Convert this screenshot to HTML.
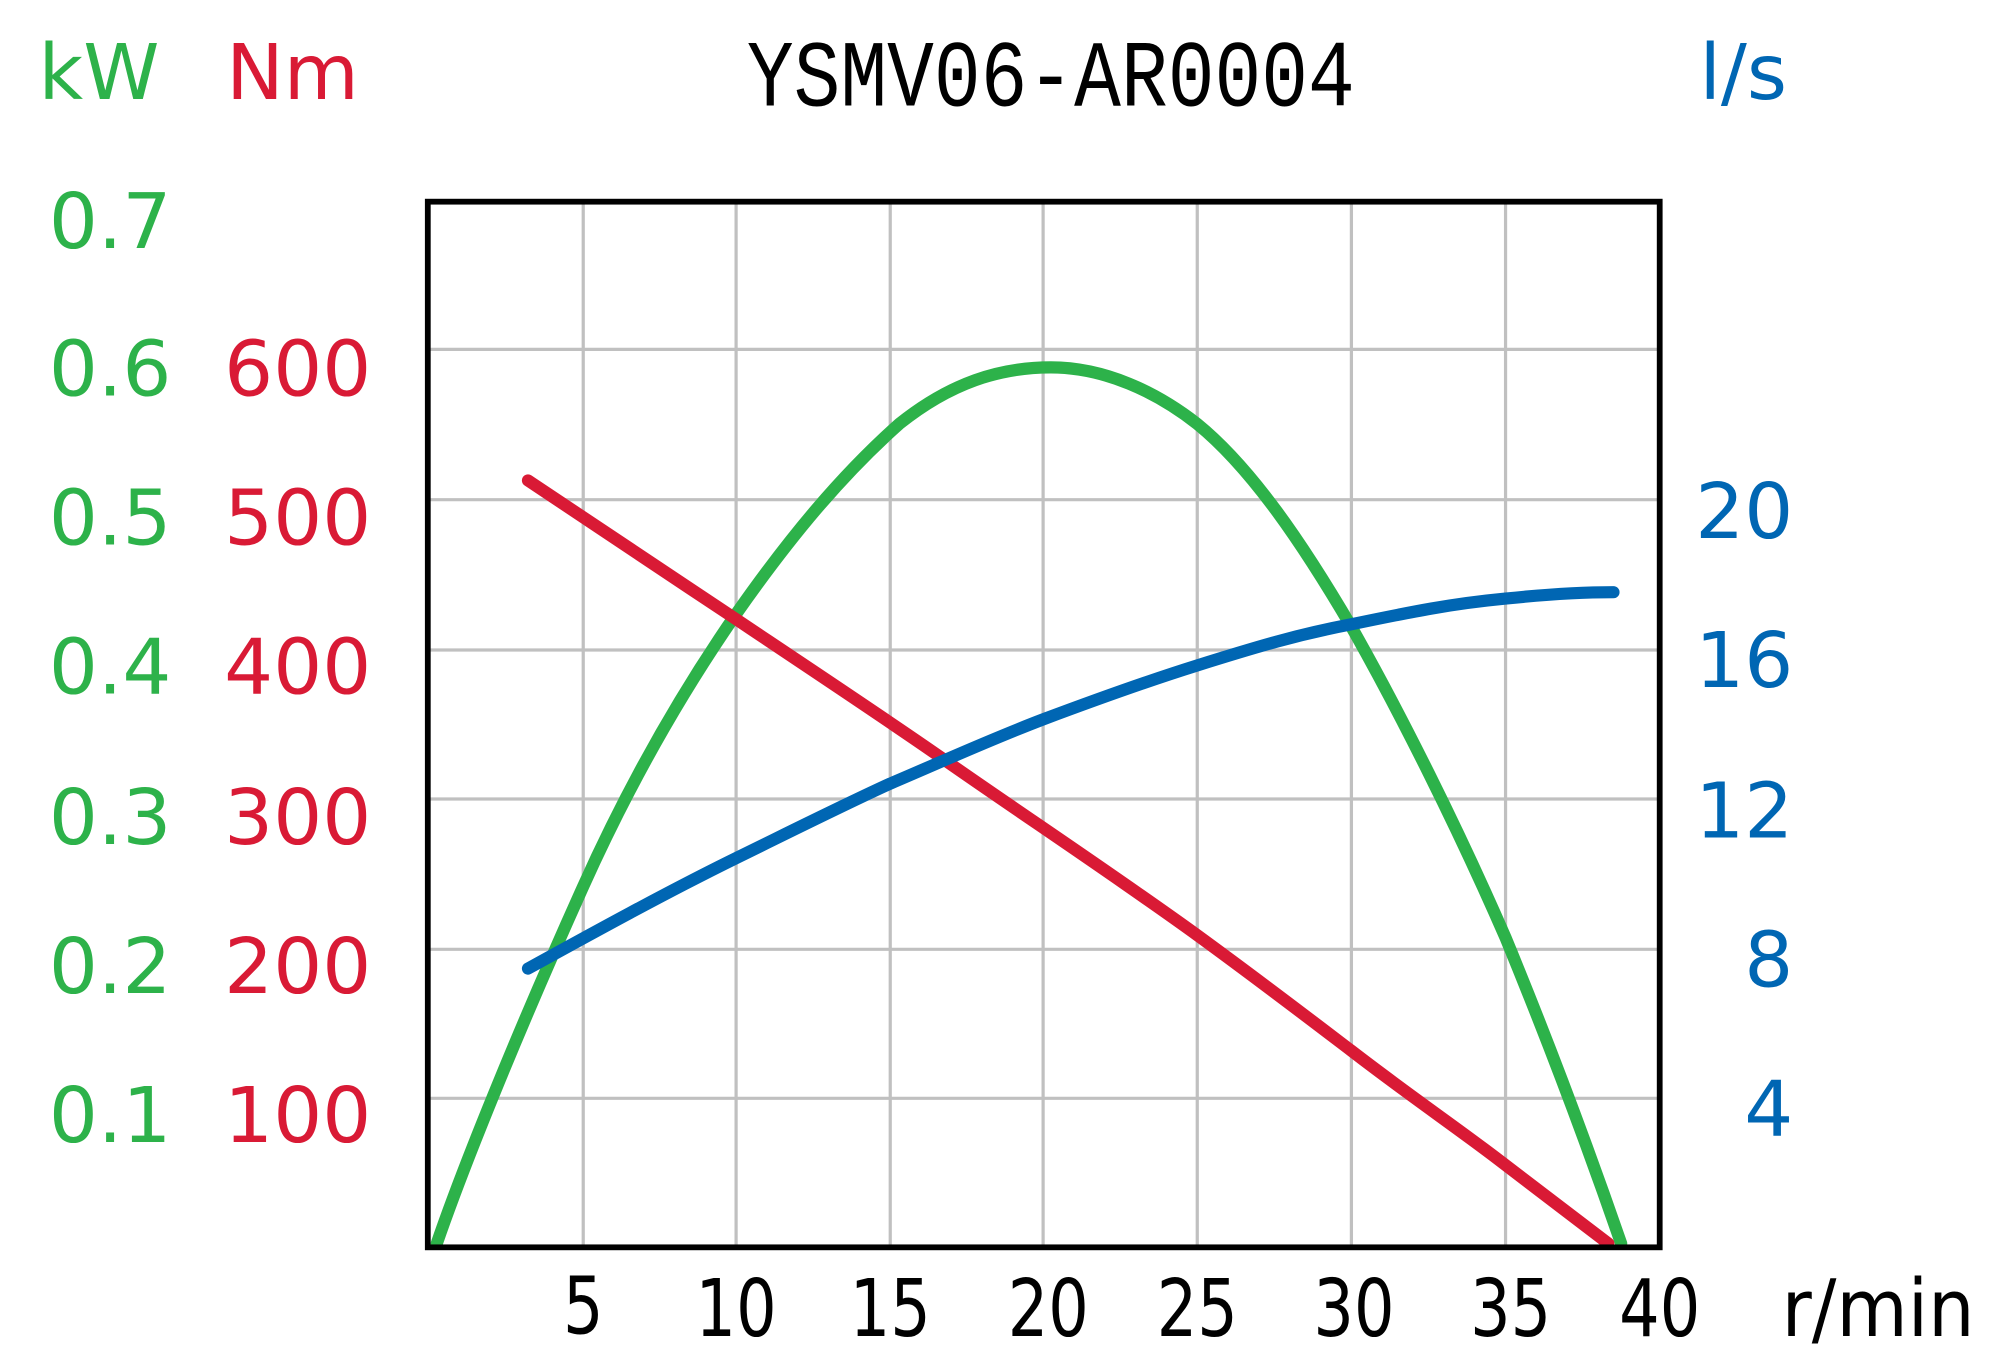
<!DOCTYPE html>
<html><head><meta charset="utf-8"><style>html,body{margin:0;padding:0;background:#fff}svg{display:block}</style></head>
<body>
<svg width="2004" height="1356" viewBox="0 0 1560 1055.6" xmlns="http://www.w3.org/2000/svg" font-family="'DejaVu Sans','Liberation Sans',sans-serif">
<g stroke="#c0c0c0" stroke-width="2.5">
<line x1="454" y1="157" x2="454" y2="971"/><line x1="573" y1="157" x2="573" y2="971"/><line x1="693" y1="157" x2="693" y2="971"/><line x1="812" y1="157" x2="812" y2="971"/><line x1="932" y1="157" x2="932" y2="971"/><line x1="1052" y1="157" x2="1052" y2="971"/><line x1="1172" y1="157" x2="1172" y2="971"/>
<line x1="333" y1="272" x2="1292" y2="272"/><line x1="333" y1="389" x2="1292" y2="389"/><line x1="333" y1="506" x2="1292" y2="506"/><line x1="333" y1="622" x2="1292" y2="622"/><line x1="333" y1="739" x2="1292" y2="739"/><line x1="333" y1="855" x2="1292" y2="855"/>
</g>
<g fill="none" stroke-linecap="round" stroke-linejoin="round" stroke-width="9.5">
<path stroke="#2db24a" d="M340,968 C360,910 400,810 454,690 C490,610 530,540 573,478 C615,418 655,370 700,330 C740,298 778,286 818,286 C860,286 900,305 932,330 C975,365 1015,425 1052,488 C1090,555 1135,645 1172,730 C1205,810 1235,890 1262,968"/>
<path stroke="#d91a35" d="M411,374 C470,413 520,447 573,482 C640,527 690,560 733,590 C790,630 870,683 932,728 C980,763 1010,786 1052,818 C1100,855 1140,882 1172,907 L1252,968"/>
<path stroke="#0066b3" d="M411,754 C460,727 520,694 573,668 C620,645 660,625 693,610 C740,590 770,576 812,560 C860,542 900,528 932,518 C980,503 1010,494 1052,486 C1100,476 1130,470 1172,466 C1210,462 1235,461 1256,461"/>
</g>
<rect x="333" y="157" width="959" height="814" fill="none" stroke="#000" stroke-width="4.5"/>
<text x="818" y="82" text-anchor="middle" font-family="'Liberation Mono',monospace" font-size="74" transform="translate(818,0) scale(0.82,1) translate(-818,0)">YSMV06-AR0004</text>
<g font-size="60" fill="#2db24a"><text x="30" y="77">kW</text>
<text x="38" y="193">0.7</text><text x="38" y="308">0.6</text><text x="38" y="424">0.5</text><text x="38" y="540">0.4</text><text x="38" y="657">0.3</text><text x="38" y="773">0.2</text><text x="38" y="889">0.1</text></g>
<g font-size="60" fill="#d91a35"><text x="176" y="77">Nm</text>
<g text-anchor="end"><text x="289" y="308">600</text><text x="289" y="424">500</text><text x="289" y="540">400</text><text x="289" y="657">300</text><text x="289" y="773">200</text><text x="289" y="889">100</text></g></g>
<g font-size="60" fill="#0066b3"><text x="1323" y="77">l/s</text>
<g text-anchor="end"><text x="1396" y="419">20</text><text x="1396" y="535">16</text><text x="1396" y="652">12</text><text x="1396" y="768">8</text><text x="1396" y="884">4</text></g></g>
<g font-size="62" fill="#000" text-anchor="middle">
<text x="454" y="1038" transform="translate(454,0) scale(0.8,1) translate(-454,0)">5</text>
<text x="573" y="1040" transform="translate(573,0) scale(0.8,1) translate(-573,0)">10</text>
<text x="693" y="1040" transform="translate(693,0) scale(0.8,1) translate(-693,0)">15</text>
<text x="816" y="1040" transform="translate(816,0) scale(0.8,1) translate(-816,0)">20</text>
<text x="932" y="1040" transform="translate(932,0) scale(0.8,1) translate(-932,0)">25</text>
<text x="1054" y="1040" transform="translate(1054,0) scale(0.8,1) translate(-1054,0)">30</text>
<text x="1176" y="1040" transform="translate(1176,0) scale(0.8,1) translate(-1176,0)">35</text>
<text x="1292" y="1040" transform="translate(1292,0) scale(0.8,1) translate(-1292,0)">40</text>
<text x="1462" y="1040" transform="translate(1462,0) scale(0.92,1) translate(-1462,0)">r/min</text>
</g>
</svg>
</body></html>
